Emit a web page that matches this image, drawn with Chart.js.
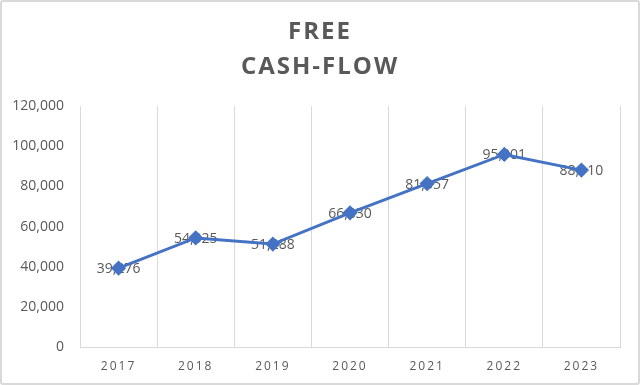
<!DOCTYPE html>
<html>
<head>
<meta charset="utf-8">
<script src="https://cdn.jsdelivr.net/npm/chart.js@4.4.0/dist/chart.umd.min.js"></script>
<style>
  html, body { margin: 0; padding: 0; background: #fff; }
  #wrap {
    width: 640px; height: 385px; box-sizing: border-box;
    border: 2px solid #d9d9d9; border-radius: 3px; position: relative;
  }
</style>
</head>
<body>
<div id="wrap"><canvas id="chart"></canvas></div>
<script>
const years = ["2017", "2018", "2019", "2020", "2021", "2022", "2023"];
const freeCashFlow = [39276, 54325, 51288, 66830, 81357, 95901, 88110];
const yTicks = [0, 20000, 40000, 60000, 80000, 100000, 120000];

const grey = "#595959";
const blue = "#4472C4";
const fmt = (v) => v.toLocaleString("en-US");

// canvas letterSpacing for the title and the year labels
function spaced(obj, fn, sp) {
  if (!obj || obj["_sp_" + fn]) return;
  const orig = obj[fn].bind(obj);
  obj[fn] = function (...args) {
    const ctx = obj.ctx;
    ctx.save();
    ctx.letterSpacing = sp;
    orig(...args);
    ctx.restore();
  };
  obj["_sp_" + fn] = true;
}

const spacingPlugin = {
  id: "spacing",
  beforeDraw(chart) {
    spaced(chart.titleBlock, "draw", "2px");
    spaced(chart.scales.x, "drawLabels", "2px");
  },
};

// value labels sit centred on the points, under the line
const valueLabels = {
  id: "valueLabels",
  beforeDatasetsDraw(chart) {
    const ctx = chart.ctx;
    const meta = chart.getDatasetMeta(0);
    ctx.save();
    ctx.font = "14px 'Open Sans'";
    ctx.fillStyle = grey;
    ctx.textAlign = "center";
    ctx.textBaseline = "middle";
    meta.data.forEach((pt, i) => {
      ctx.fillText(fmt(freeCashFlow[i]), pt.x, pt.y + 1);
    });
    ctx.restore();
  },
};

new Chart(document.getElementById("chart"), {
  type: "line",
  data: {
    labels: years,
    datasets: [
      {
        data: freeCashFlow,
        borderColor: blue,
        backgroundColor: blue,
        borderWidth: 3,
        pointStyle: "rectRot",
        pointRadius: 5.5,
        pointBackgroundColor: blue,
        pointBorderColor: blue,
        tension: 0,
      },
    ],
  },
  options: {
    responsive: true,
    maintainAspectRatio: false,
    animation: false,
    layout: {
      padding: { left: 0, right: 0, top: 0, bottom: 0 },
    },
    plugins: {
      legend: { display: false },
      tooltip: { enabled: false },
      title: {
        display: true,
        text: ["FREE", "CASH-FLOW"],
        color: grey,
        font: { family: "'Open Sans'", size: 24, weight: "bold", lineHeight: 1.46 },
        padding: { top: 13, bottom: 21 },
      },
    },
    scales: {
      x: {
        offset: true,
        grid: { display: true, offset: true, color: "#d9d9d9", drawTicks: false },
        border: { display: true, color: "#d9d9d9" },
        ticks: {
          color: grey,
          font: { family: "'Open Sans'", size: 12 },
          padding: 12,
          maxRotation: 0,
        },
        afterFit(scale) { scale.height = 36; },
      },
      y: {
        min: 0,
        max: 120000,
        grid: { display: false, drawTicks: false },
        border: { display: false },
        afterBuildTicks(scale) { scale.ticks = yTicks.map((v) => ({ value: v })); },
        ticks: {
          color: grey,
          font: { family: "'Open Sans'", size: 14 },
          padding: 16,
          callback: (v) => fmt(v),
        },
        afterFit(scale) { scale.width = 78; },
      },
      // empty right-hand strip so the plot ends where the reference's does
      spacer: {
        position: "right",
        min: 0,
        max: 120000,
        grid: { display: false, drawTicks: false },
        border: { display: false },
        ticks: { display: false },
        afterFit(scale) { scale.width = 18; },
      },
    },
  },
  plugins: [spacingPlugin, valueLabels],
});
</script>
</body>
</html>
